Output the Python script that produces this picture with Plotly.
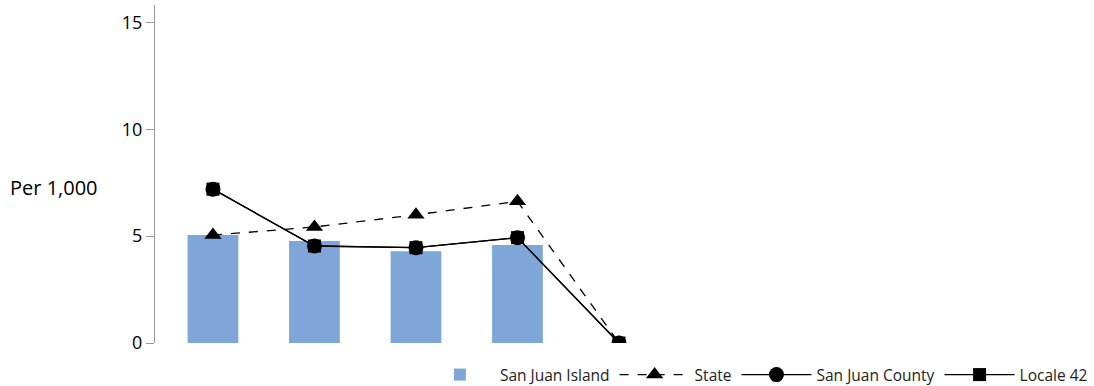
import plotly.graph_objects as go

positions = [1, 2, 3, 4, 5]
san_juan_island = [5.05, 4.77, 4.3, 4.59, None]
state = [5.05, 5.43, 6.0, 6.63, 0]
san_juan_county = [7.2, 4.54, 4.46, 4.93, 0]
locale_42 = [7.2, 4.54, 4.46, 4.93, 0]
y_ticks = [0, 5, 10, 15]

FONT = "Open Sans"

fig = go.Figure()
fig.add_trace(go.Bar(
    x=positions, y=san_juan_island, name="San Juan Island",
    marker=dict(color="#7FA6D8", line=dict(width=0)), width=0.5,
))
fig.add_trace(go.Scatter(
    x=positions, y=state, name="State", mode="lines+markers",
    line=dict(color="black", width=1.3, dash="dash"),
    marker=dict(symbol="triangle-up", size=15, color="black"),
))
fig.add_trace(go.Scatter(
    x=positions, y=san_juan_county, name="San Juan County", mode="lines+markers",
    line=dict(color="black", width=1.3),
    marker=dict(symbol="circle", size=15, color="black"),
))
fig.add_trace(go.Scatter(
    x=positions, y=locale_42, name="Locale 42", mode="lines+markers",
    line=dict(color="black", width=1.3),
    marker=dict(symbol="square", size=13, color="black"),
))

fig.update_layout(
    width=1094, height=386,
    margin=dict(l=155, r=2, t=5, b=43, autoexpand=False),
    plot_bgcolor="white", paper_bgcolor="white",
    font=dict(family=FONT, color="black", size=16),
    showlegend=True,
    legend=dict(orientation="h", xref="container", x=0.999, xanchor="right",
                yref="container", y=(386 - 375) / 386, yanchor="middle",
                font=dict(size=15.5, family=FONT, color="#222"), traceorder="normal",
                itemwidth=70, bgcolor="rgba(0,0,0,0)"),
)
fig.update_xaxes(range=[0.429, 9.66], showticklabels=False, showgrid=False,
                 zeroline=False, showline=False, ticks="")
fig.update_yaxes(range=[0, 15.82], tickvals=y_ticks, showgrid=False, zeroline=False,
                 showline=True, linecolor="#999", linewidth=1,
                 ticks="outside", ticklen=8, tickcolor="#999",
                 tickfont=dict(size=18, family=FONT, color="black"))
fig.add_annotation(text="Per 1,000", xref="paper", yref="paper",
                   x=-147 / 937, xanchor="left", y=(343 - 187) / 338, yanchor="middle",
                   showarrow=False, font=dict(size=20, family=FONT, color="black"))

fig.write_html("out.html", config={"displayModeBar": False},
               post_script="document.body.style.margin='0';document.body.style.overflow='hidden';")
